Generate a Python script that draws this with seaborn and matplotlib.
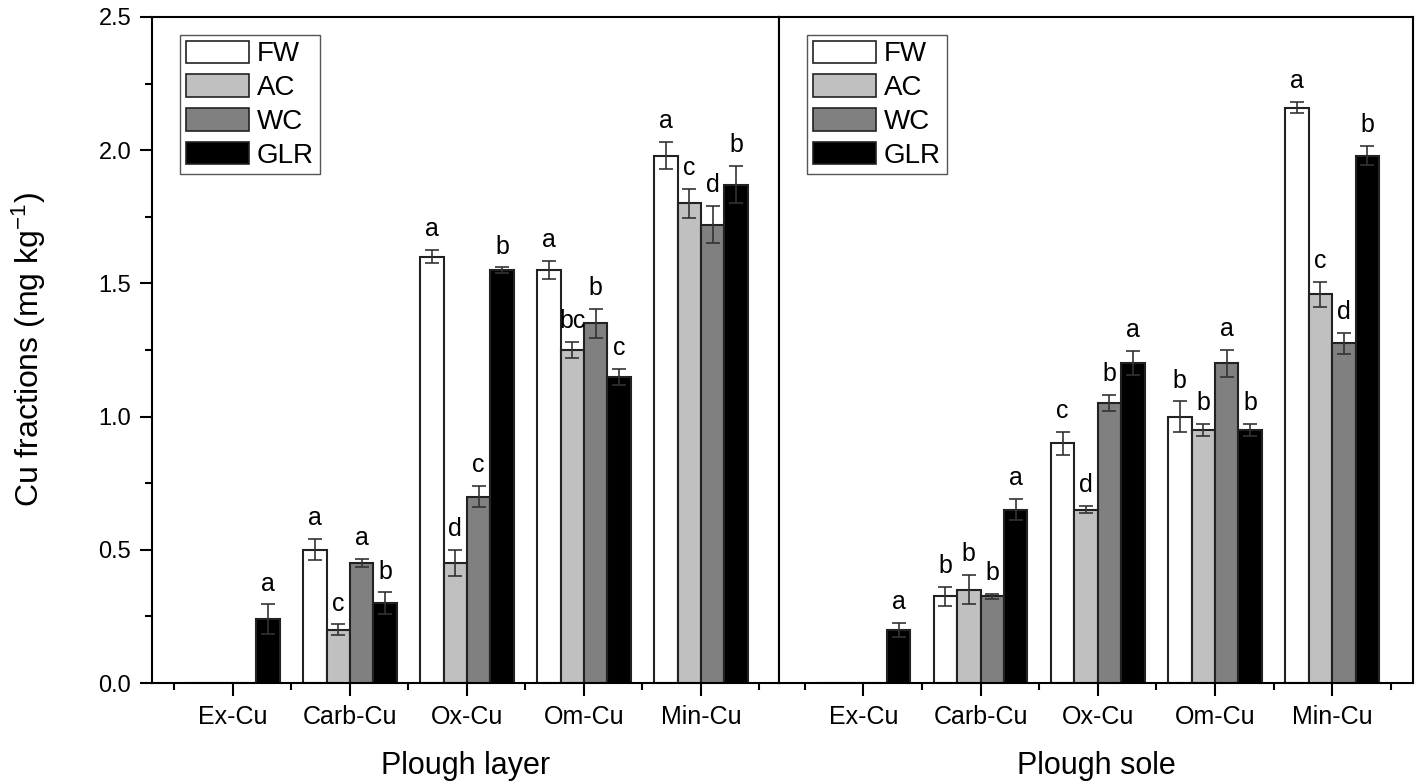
import numpy as np
import pandas as pd
import matplotlib
matplotlib.use("Agg")
import matplotlib.pyplot as plt
import seaborn as sns
from matplotlib.patches import Patch
from matplotlib.ticker import MultipleLocator, FormatStrFormatter, FixedLocator

# ---------------- data ----------------
fractions = ["Ex-Cu", "Carb-Cu", "Ox-Cu", "Om-Cu", "Min-Cu"]
treatments = ["FW", "AC", "WC", "GLR"]
colors = ["#ffffff", "#c0c0c0", "#808080", "#000000"]
panel_titles = ["Plough layer", "Plough sole"]

# Plough layer
layer_FW = [0.0, 0.50, 1.60, 1.55, 1.98]
layer_AC = [0.0, 0.20, 0.45, 1.25, 1.80]
layer_WC = [0.0, 0.45, 0.70, 1.35, 1.72]
layer_GLR = [0.24, 0.30, 1.55, 1.15, 1.87]
layer_FW_err = [0.0, 0.04, 0.025, 0.033, 0.05]
layer_AC_err = [0.0, 0.02, 0.05, 0.03, 0.055]
layer_WC_err = [0.0, 0.015, 0.04, 0.055, 0.07]
layer_GLR_err = [0.055, 0.04, 0.01, 0.03, 0.07]
layer_FW_sig = ["", "a", "a", "a", "a"]
layer_AC_sig = ["", "c", "d", "bc", "c"]
layer_WC_sig = ["", "a", "c", "b", "d"]
layer_GLR_sig = ["a", "b", "b", "c", "b"]

# Plough sole
sole_FW = [0.0, 0.325, 0.90, 1.00, 2.16]
sole_AC = [0.0, 0.35, 0.65, 0.95, 1.46]
sole_WC = [0.0, 0.325, 1.05, 1.20, 1.275]
sole_GLR = [0.20, 0.65, 1.20, 0.95, 1.98]
sole_FW_err = [0.0, 0.035, 0.044, 0.057, 0.02]
sole_AC_err = [0.0, 0.055, 0.013, 0.023, 0.047]
sole_WC_err = [0.0, 0.008, 0.03, 0.05, 0.04]
sole_GLR_err = [0.027, 0.04, 0.045, 0.023, 0.035]
sole_FW_sig = ["", "b", "c", "b", "a"]
sole_AC_sig = ["", "b", "d", "b", "c"]
sole_WC_sig = ["", "b", "b", "a", "d"]
sole_GLR_sig = ["a", "a", "a", "b", "b"]

panels = [
    ([layer_FW, layer_AC, layer_WC, layer_GLR],
     [layer_FW_err, layer_AC_err, layer_WC_err, layer_GLR_err],
     [layer_FW_sig, layer_AC_sig, layer_WC_sig, layer_GLR_sig]),
    ([sole_FW, sole_AC, sole_WC, sole_GLR],
     [sole_FW_err, sole_AC_err, sole_WC_err, sole_GLR_err],
     [sole_FW_sig, sole_AC_sig, sole_WC_sig, sole_GLR_sig]),
]

# ---------------- style ----------------
sns.set_theme(style="ticks")
plt.rcParams["font.family"] = ["Liberation Sans", "DejaVu Sans"]
plt.rcParams["mathtext.default"] = "regular"
plt.rcParams["text.color"] = "black"
plt.rcParams["axes.labelcolor"] = "black"
plt.rcParams["xtick.color"] = "black"
plt.rcParams["ytick.color"] = "black"
plt.rcParams["axes.edgecolor"] = "black"

W, H = 1417, 784
fig = plt.figure(figsize=(W / 100, H / 100), dpi=100)
gs = fig.add_gridspec(1, 2, width_ratios=[627, 634], wspace=0,
                      left=152 / W, right=1413 / W,
                      top=1 - 17 / H, bottom=1 - 683 / H)
ax1 = fig.add_subplot(gs[0])
ax2 = fig.add_subplot(gs[1], sharey=ax1)
axes = [ax1, ax2]
xlims = [(-0.692, 4.667), (-0.72, 4.69)]

for k, ax in enumerate(axes):
    vals, errs, sigs = panels[k]
    df = pd.DataFrame({
        "fraction": fractions * len(treatments),
        "treatment": np.repeat(treatments, len(fractions)),
        "value": np.concatenate(vals),
    })
    sns.barplot(data=df, x="fraction", y="value", hue="treatment",
                order=fractions, hue_order=treatments, palette=colors,
                saturation=1, edgecolor="#222222", linewidth=1.5,
                errorbar=None, legend=False, width=0.8, ax=ax)
    bar_conts = list(ax.containers)[:len(treatments)]
    for i, cont in enumerate(bar_conts):
        for j, bar in enumerate(cont.patches):
            x = bar.get_x() + bar.get_width() / 2
            h = bar.get_height()
            e = errs[i][j]
            if e > 0:
                ax.errorbar(x, h, yerr=e, fmt="none", ecolor="#333333",
                            elinewidth=1.2, capsize=5, capthick=1.2, zorder=5)
            if sigs[i][j]:
                ax.annotate(sigs[i][j], (x, h + e), xytext=(0, 10),
                            textcoords="offset points", ha="center",
                            va="baseline", fontsize=18)

    ax.set_xlim(*xlims[k])
    ax.set_ylim(0, 2.5)
    ax.xaxis.set_minor_locator(FixedLocator([-0.5, 0.5, 1.5, 2.5, 3.5, 4.5]))
    ax.tick_params(axis="x", which="major", direction="out", length=9,
                   width=1.5, labelsize=18, pad=7)
    ax.tick_params(axis="x", which="minor", direction="out", length=5,
                   width=1.5)
    ax.set_xlabel(panel_titles[k], fontsize=22, labelpad=16)
    for s in ax.spines.values():
        s.set_visible(True)
        s.set_linewidth(1.5)
        s.set_color("black")

    handles = [Patch(facecolor=c, edgecolor="#222222", linewidth=1.2, label=t)
               for t, c in zip(treatments, colors)]
    x0 = (180 - 152) / 627 if k == 0 else (808 - 780) / 633
    leg = ax.legend(handles=handles, loc="upper left",
                    bbox_to_anchor=(x0, 1 - (35 - 17) / 666),
                    fontsize=20, frameon=True, fancybox=False,
                    edgecolor="#555555", framealpha=1,
                    handlelength=2.27, handleheight=0.87,
                    labelspacing=0.25, borderpad=0.2,
                    handletextpad=0.3, borderaxespad=0)
    leg.get_frame().set_linewidth(1.0)

ax1.yaxis.set_major_locator(MultipleLocator(0.5))
ax1.yaxis.set_minor_locator(MultipleLocator(0.25))
ax1.yaxis.set_major_formatter(FormatStrFormatter("%.1f"))
ax1.tick_params(axis="y", which="major", direction="out", length=9,
                width=1.5, labelsize=17, pad=6)
ax1.tick_params(axis="y", which="minor", direction="out", length=5,
                width=1.5)
ax1.set_ylabel("Cu fractions (mg kg$^{-1}$)", fontsize=23, labelpad=36)
ax2.tick_params(axis="y", which="both", left=False, labelleft=False,
                right=False, labelright=False)
ax2.set_ylabel("")

fig.savefig("out.png", dpi=100)
